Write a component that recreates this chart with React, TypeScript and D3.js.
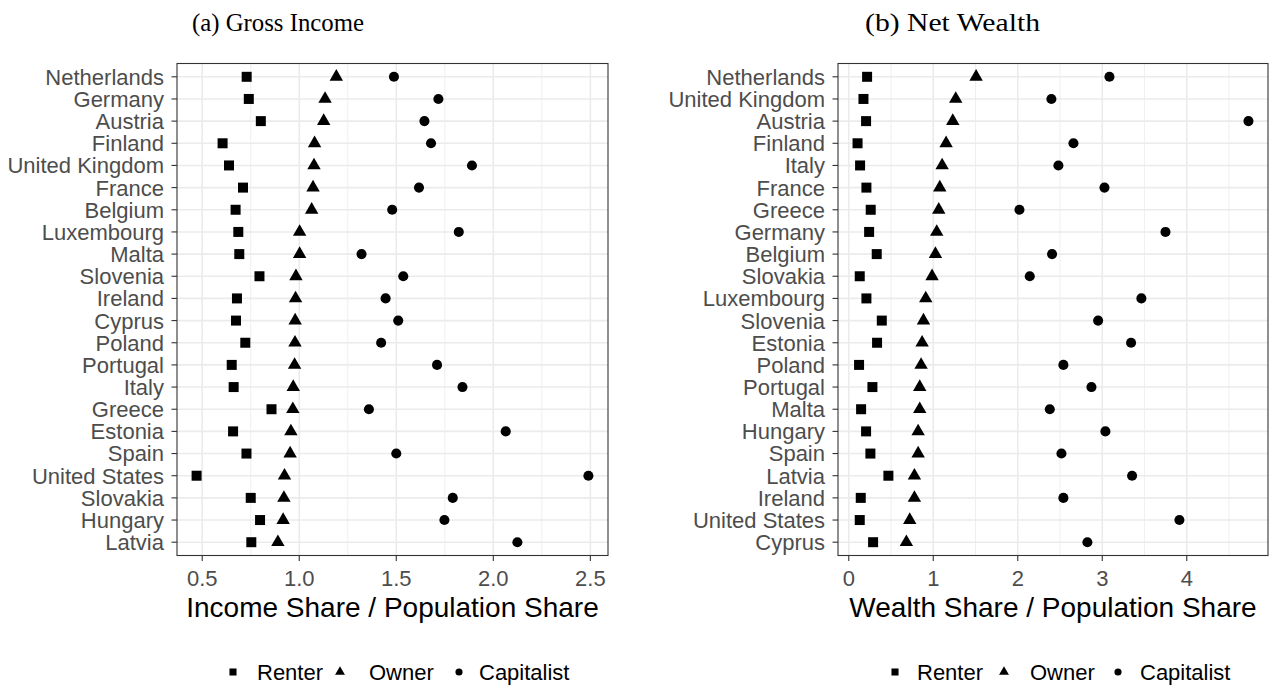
import React from "react";
import * as d3 from "d3";

const incomeCountries = ["Netherlands","Germany","Austria","Finland","United Kingdom","France","Belgium","Luxembourg","Malta","Slovenia","Ireland","Cyprus","Poland","Portugal","Italy","Greece","Estonia","Spain","United States","Slovakia","Hungary","Latvia"];
const incomeRenter = [0.729,0.740,0.802,0.605,0.638,0.710,0.672,0.686,0.691,0.795,0.679,0.674,0.722,0.652,0.662,0.857,0.659,0.728,0.471,0.750,0.798,0.753];
const incomeOwner = [1.191,1.133,1.126,1.079,1.076,1.071,1.064,1.002,1.002,0.983,0.981,0.979,0.978,0.976,0.969,0.967,0.957,0.953,0.924,0.921,0.917,0.890];
const incomeCapitalist = [1.488,1.717,1.645,1.679,1.890,1.617,1.479,1.822,1.321,1.536,1.445,1.510,1.422,1.710,1.841,1.359,2.064,1.500,2.490,1.791,1.748,2.124];
const incomeTicks = [0.5, 1.0, 1.5, 2.0, 2.5];
const incomeMinor = [0.75, 1.25, 1.75, 2.25];

const wealthCountries = ["Netherlands","United Kingdom","Austria","Finland","Italy","France","Greece","Germany","Belgium","Slovakia","Luxembourg","Slovenia","Estonia","Poland","Portugal","Malta","Hungary","Spain","Latvia","Ireland","United States","Cyprus"];
const wealthRenter = [0.217,0.174,0.205,0.104,0.134,0.209,0.260,0.241,0.331,0.130,0.209,0.391,0.335,0.122,0.280,0.146,0.205,0.256,0.469,0.142,0.130,0.288];
const wealthOwner = [1.507,1.266,1.231,1.152,1.105,1.077,1.065,1.041,1.026,0.986,0.911,0.884,0.868,0.856,0.840,0.840,0.821,0.821,0.777,0.777,0.722,0.682];
const wealthCapitalist = [3.085,2.398,4.730,2.659,2.481,3.026,2.020,3.748,2.406,2.142,3.463,2.951,3.341,2.540,2.872,2.379,3.037,2.517,3.353,2.540,3.913,2.824];
const wealthTicks = [0, 1, 2, 3, 4];
const wealthMinor = [0.5, 1.5, 2.5, 3.5, 4.5];

const groups = ["Renter", "Owner", "Capitalist"];

const SANS = "'Liberation Sans', Arial, sans-serif";
const SERIF = "'Liberation Serif', 'DejaVu Serif', serif";

const symSquare = d3.symbol(d3.symbolSquare, 100)();
const symTriangle = d3.symbol(d3.symbolTriangle, 78)();
const symCircle = d3.symbol(d3.symbolCircle, 80)();
const legSquare = d3.symbol(d3.symbolSquare, 50)();
const legTriangle = d3.symbol(d3.symbolTriangle, 42)();
const legCircle = d3.symbol(d3.symbolCircle, 40)();
const shapes = [symSquare, symTriangle, symCircle];
const legShapes = [legSquare, legTriangle, legCircle];

type PanelProps = {
  left: number; right: number; top: number; bottom: number;
  countries: string[]; series: number[][]; ticks: number[]; minor: number[];
  fmt: (v: number) => string; xTitle: string;
  title: string; titleX: number; titleLen: number;
  legendX: number[]; legendTextX: number[];
};

function Panel(p: PanelProps) {
  const all = p.series.flat();
  const lo = d3.min(all) as number;
  const hi = d3.max(all) as number;
  const pad = (hi - lo) * 0.05;
  const x = d3.scaleLinear().domain([lo - pad, hi + pad]).range([p.left, p.right]);
  const y = d3.scalePoint<string>().domain(p.countries).range([p.top, p.bottom]).padding(0.6);
  const grid = "#EBEBEB";
  const dark = "#333333";
  const cx = (p.left + p.right) / 2;
  return (
    <g>
      <text x={p.titleX} y={31} fontFamily={SERIF} fontSize={25} fill="#000" textLength={p.titleLen} lengthAdjust="spacingAndGlyphs">{p.title}</text>
      <rect x={p.left} y={p.top} width={p.right - p.left} height={p.bottom - p.top} fill="#fff" />
      {p.minor.map((v) => (
        <line key={"mn" + v} x1={x(v)} x2={x(v)} y1={p.top} y2={p.bottom} stroke={grid} strokeWidth={0.8} />
      ))}
      {p.ticks.map((v) => (
        <line key={"mj" + v} x1={x(v)} x2={x(v)} y1={p.top} y2={p.bottom} stroke={grid} strokeWidth={1.6} />
      ))}
      {p.countries.map((c) => (
        <line key={"h" + c} x1={p.left} x2={p.right} y1={y(c)} y2={y(c)} stroke={grid} strokeWidth={1.6} />
      ))}
      {p.series.map((vals, si) =>
        vals.map((v, i) => (
          <path key={si + "-" + i} d={shapes[si]} transform={`translate(${x(v)},${y(p.countries[i])})`} fill="#000" />
        ))
      )}
      <rect x={p.left} y={p.top} width={p.right - p.left} height={p.bottom - p.top} fill="none" stroke={dark} strokeWidth={1.1} />
      {p.countries.map((c) => (
        <g key={"yl" + c}>
          <line x1={p.left - 5.5} x2={p.left} y1={y(c)} y2={y(c)} stroke={dark} strokeWidth={1.1} />
          <text x={p.left - 13} y={y(c)} dy="0.36em" textAnchor="end" fontFamily={SANS} fontSize={22} fill="#4D4D4D">{c}</text>
        </g>
      ))}
      {p.ticks.map((v) => (
        <g key={"xl" + v}>
          <line x1={x(v)} x2={x(v)} y1={p.bottom} y2={p.bottom + 5.5} stroke={dark} strokeWidth={1.1} />
          <text x={x(v)} y={586} textAnchor="middle" fontFamily={SANS} fontSize={22} fill="#4D4D4D">{p.fmt(v)}</text>
        </g>
      ))}
      <text x={cx} y={617} textAnchor="middle" fontFamily={SANS} fontSize={28} fill="#000">{p.xTitle}</text>
      {groups.map((g, gi) => (
        <g key={"lg" + g}>
          <path d={legShapes[gi]} transform={`translate(${p.legendX[gi]},672)`} fill="#000" />
          <text x={p.legendTextX[gi]} y={680} fontFamily={SANS} fontSize={22} fill="#000">{g}</text>
        </g>
      ))}
    </g>
  );
}

export default function App() {
  return (
    <svg width={1277} height={690} style={{ position: "absolute", left: 0, top: 0, background: "#fff" }}>
      <rect x={0} y={0} width={1277} height={690} fill="#fff" />
      <Panel left={177} right={608} top={63.5} bottom={555.5}
        countries={incomeCountries} series={[incomeRenter, incomeOwner, incomeCapitalist]}
        ticks={incomeTicks} minor={incomeMinor} fmt={(v) => d3.format(".1f")(v)}
        xTitle="Income Share / Population Share"
        title="(a) Gross Income" titleX={192} titleLen={172}
        legendX={[233, 340, 459]} legendTextX={[257, 369, 479]} />
      <Panel left={838} right={1268} top={63.5} bottom={555.5}
        countries={wealthCountries} series={[wealthRenter, wealthOwner, wealthCapitalist]}
        ticks={wealthTicks} minor={wealthMinor} fmt={(v) => d3.format("d")(v)}
        xTitle="Wealth Share / Population Share"
        title="(b) Net Wealth" titleX={865} titleLen={175}
        legendX={[895, 1004, 1118]} legendTextX={[917, 1030, 1140]} />
    </svg>
  );
}
